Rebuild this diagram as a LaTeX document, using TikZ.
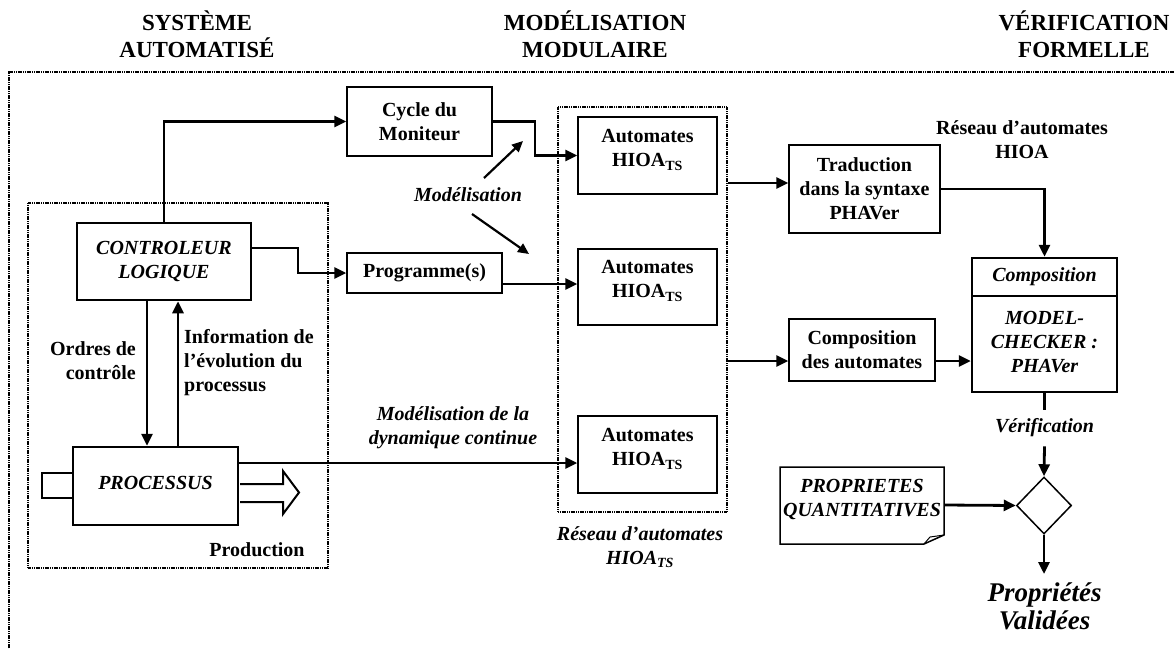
\documentclass[tikz,border=0pt]{standalone}
\usepackage{fontspec}
\setmainfont{Liberation Serif}
\usetikzlibrary{arrows.meta,shapes.geometric}
\tikzset{
  txt/.style={font=\fontsize{20}{24}\selectfont\bfseries, align=center, inner sep=0pt},
  itxt/.style={font=\fontsize{20}{24}\selectfont\bfseries\itshape, align=center, inner sep=0pt},
  ttl/.style={font=\fontsize{23}{27}\selectfont\bfseries, align=center, inner sep=0pt},
  box/.style={draw, line width=1.5pt, inner sep=0pt},
  thickbox/.style={draw, line width=2.5pt, inner sep=0pt},
  arr/.style={line width=2.8pt, -{Triangle[length=12pt,width=11pt]}},
  plain/.style={line width=2.8pt},
  frame/.style={line width=2.2pt, dash pattern=on 1.2pt off 0.6pt},
  innerframe/.style={line width=1.8pt, dash pattern=on 1.2pt off 0.6pt},
}
\begin{document}
\begin{tikzpicture}[x=1pt,y=-1pt]
\useasboundingbox (0,0) rectangle (1175,648);

% titles
\node[ttl] (t1) at (197,34) {SYSTÈME\\AUTOMATISÉ};
\node[ttl] (t2) at (595,34) {MODÉLISATION\\MODULAIRE};
\node[ttl] (t3) at (1084,34) {VÉRIFICATION\\FORMELLE};

% outer frame (cropped at right and bottom)
\draw[frame] (9,652) -- (9,72) -- (1180,72);

% production dotted box
\draw[innerframe] (28,203) rectangle (328,568);
\node[txt] (prodlbl) at (257,550) {Production};

% modular dotted box
\node[innerframe, draw, minimum width=169, minimum height=405, inner sep=0pt] (mod) at (642.5,309.5) {};

% boxes
\node[box, minimum width=145, minimum height=69] (cyc) at (419.5,121.5) {};
\node[txt] at (cyc.center) {Cycle du\\Moniteur};
\node[thickbox, minimum width=174, minimum height=77] (ctrl) at (164,261.5) {};
\node[itxt] at (ctrl.center) {CONTROLEUR\\LOGIQUE};
\node[box, minimum width=155, minimum height=40] (prog) at (424.5,273) {};
\node[txt] at (prog.center) {Programme(s)};
\node[thickbox, minimum width=165, minimum height=78] (proc) at (155.5,486) {};
\node[itxt] at (155.5,483) {PROCESSUS};

\node[box, minimum width=139, minimum height=77] (aut1) at (647.5,155.5) {};
\node[txt] at (647.5,150) {Automates\\HIOA\textsubscript{TS}};
\node[box, minimum width=139, minimum height=76] (aut2) at (647.5,287) {};
\node[txt] at (647.5,281) {Automates\\HIOA\textsubscript{TS}};
\node[box, minimum width=139, minimum height=77] (aut3) at (647.5,454.5) {};
\node[txt] at (647.5,449) {Automates\\HIOA\textsubscript{TS}};

\node[box, minimum width=151, minimum height=88] (trad) at (864.5,189) {};
\node[txt] at (trad.center) {Traduction\\dans la syntaxe\\PHAVer};
\node[box, minimum width=146, minimum height=62] (comp) at (862,350) {};
\node[txt] at (comp.center) {Composition\\des automates};

\node[thickbox, minimum width=145, minimum height=134] (mc) at (1044.5,325) {};
\draw[line width=1.5pt] (972,296) -- (1117,296);
\node[itxt] at (1044.5,277) {Composition};
\node[itxt] at (1044.5,342) {MODEL-\\CHECKER :\\PHAVer};

\node[draw, diamond, line width=1.5pt, minimum width=55, minimum height=57, inner sep=0pt] (dia) at (1044,505.5) {};

% note shape
\draw[line width=1.5pt] (780,467) -- (944,467) -- (944,535) -- (924,544) -- (780,544) -- cycle;
\draw[line width=1pt] (924,544) -- (930,537) -- (944,535);
\coordinate (noteE) at (944,505);
\node[itxt] (note) at (862,499) {PROPRIETES\\QUANTITATIVES};

% process decorations
\draw[line width=2pt] (42,473) rectangle (73,498);
\draw[line width=2pt] (240,484) -- (283,484) -- (283,471) -- (299,492.5) -- (283,514) -- (283,502) -- (240,502);

% labels
\node[txt, align=right, anchor=east] (ordres) at (136,361) {Ordres de\\contrôle};
\node[txt, align=left, anchor=west] (info) at (184,363) {Information de\\l’évolution du\\processus};
\node[itxt] (modl) at (468,195) {Modélisation};
\node[itxt] (dyn) at (453,428) {Modélisation de la\\dynamique continue};
\node[itxt] (resTS) at (640,547) {Réseau d’automates\\HIOA\textsubscript{TS}};
\node[txt] (res) at (1022,140) {Réseau d’automates\\HIOA};
\node[itxt, inner ysep=9pt] (verif) at (1044.5,428) {Vérification};
\node[font=\fontsize{27}{28}\selectfont\bfseries\itshape, align=center, inner sep=0pt] (valid) at (1044.5,606) {Propriétés\\Validées};

% connectors
\draw[arr] (ctrl.north) |- (cyc.west);
\draw[arr] (ctrl.east |- 0,248) -- (298,248) |- (prog.west);
\draw[arr] (cyc.east) -- (535,121.5) |- (aut1.west);
\draw[arr] (prog.east |- 0,284) -- (aut2.west |- 0,284);
\draw[arr] (proc.east |- 0,463) -- (aut3.west |- 0,463);
\draw[arr] (mod.east |- 0,183) -- (trad.west |- 0,183);
\draw[arr] (trad.east) -| (mc.north);
\draw[arr] (mod.east |- 0,361) -- (comp.west |- 0,361);
\draw[arr] (comp.east |- 0,361) -- (mc.west |- 0,361);
\draw[plain] (mc.south) -- (verif.north);
\draw[arr] (verif.south) -- (dia.north);
\draw[arr] (noteE) -- (dia.west);
\draw[arr] (dia.south) -- (1044,574);
\draw[arr] (ctrl.south -| 147,0) -- (proc.north -| 147,0);
\draw[arr] (proc.north -| 178,0) -- (ctrl.south -| 178,0);
\coordinate (m1a) at (484,178);
\coordinate (m1b) at (523,141);
\coordinate (m2a) at (472,214);
\coordinate (m2b) at (529,254);
\draw[line width=2.2pt, -{Triangle[length=11pt,width=10pt]}] (m1a) -- (m1b);
\draw[line width=2.2pt, -{Triangle[length=11pt,width=10pt]}] (m2a) -- (m2b);
\end{tikzpicture}
\end{document}
